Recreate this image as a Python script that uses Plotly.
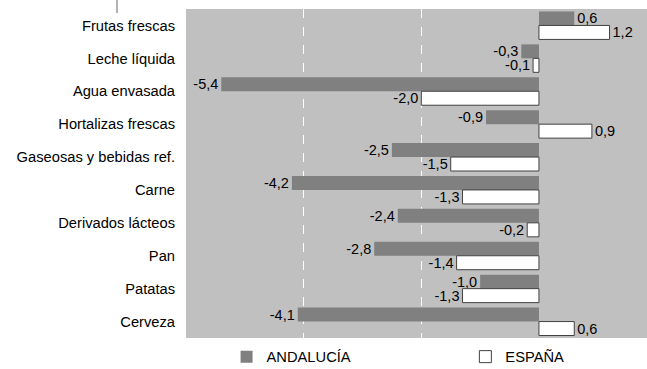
import plotly.graph_objects as go

categories = ["Frutas frescas", "Leche líquida", "Agua envasada", "Hortalizas frescas",
              "Gaseosas y bebidas ref.", "Carne", "Derivados lácteos", "Pan", "Patatas", "Cerveza"]
andalucia = [0.6, -0.3, -5.4, -0.9, -2.5, -4.2, -2.4, -2.8, -1.0, -4.1]
espana = [1.2, -0.1, -2.0, 0.9, -1.5, -1.3, -0.2, -1.4, -1.3, 0.6]
series_names = ["ANDALUCÍA", "ESPAÑA"]

FONT = "Liberation Sans, Arial, sans-serif"

fig = go.Figure()
fig.add_trace(go.Bar(
    y=categories, x=andalucia, orientation="h", name=series_names[0],
    marker=dict(color="#808080", line=dict(width=0)),
    texttemplate="%{x:.1f}", textposition="outside", constraintext="none",
    textfont=dict(size=14.5, color="#000000", family=FONT), cliponaxis=False,
    legend="legend",
))
fig.add_trace(go.Bar(
    y=categories, x=espana, orientation="h", name=series_names[1],
    marker=dict(color="#ffffff", line=dict(width=1, color="#404040")),
    texttemplate="%{x:.1f}", textposition="outside", constraintext="none",
    textfont=dict(size=14.5, color="#000000", family=FONT), cliponaxis=False,
    legend="legend2",
))

leg_common = dict(orientation="h", yanchor="middle", y=-0.058, xanchor="left",
                  font=dict(size=14.7, family=FONT, color="#000000"),
                  bgcolor="rgba(0,0,0,0)", itemwidth=30)

fig.update_layout(
    width=647, height=369,
    margin=dict(l=186, r=0, t=9, b=31, autoexpand=False),
    paper_bgcolor="#ffffff", plot_bgcolor="#c0c0c0",
    barmode="group", bargap=0.15, bargroupgap=0,
    separators=",.",
    font=dict(family=FONT, size=14.7, color="#000000"),
    showlegend=True,
    legend=dict(x=0.088, **leg_common),
    legend2=dict(x=0.606, **leg_common),
    xaxis=dict(range=[-6, 108 / 58.8], showticklabels=False, ticks="",
               tickvals=[-4, -2], showgrid=True, gridcolor="#ffffff", griddash="dash",
               gridwidth=1, zeroline=False, showline=False, fixedrange=True,
               automargin=False),
    yaxis=dict(autorange="reversed", showgrid=False, ticks="", ticklabelstandoff=10,
               showline=False, zeroline=False, automargin=False,
               tickfont=dict(size=14.7, family=FONT)),
    shapes=[dict(type="line", xref="paper", yref="paper",
                 x0=(117 - 186) / 461, x1=(117 - 186) / 461, y0=1 + 9 / 329, y1=1 - 4 / 329,
                 line=dict(color="#666666", width=1))],
)

fig.write_html("out.html", config={"displayModeBar": False},
               post_script="document.body.style.margin='0';document.body.style.overflow='hidden';")
